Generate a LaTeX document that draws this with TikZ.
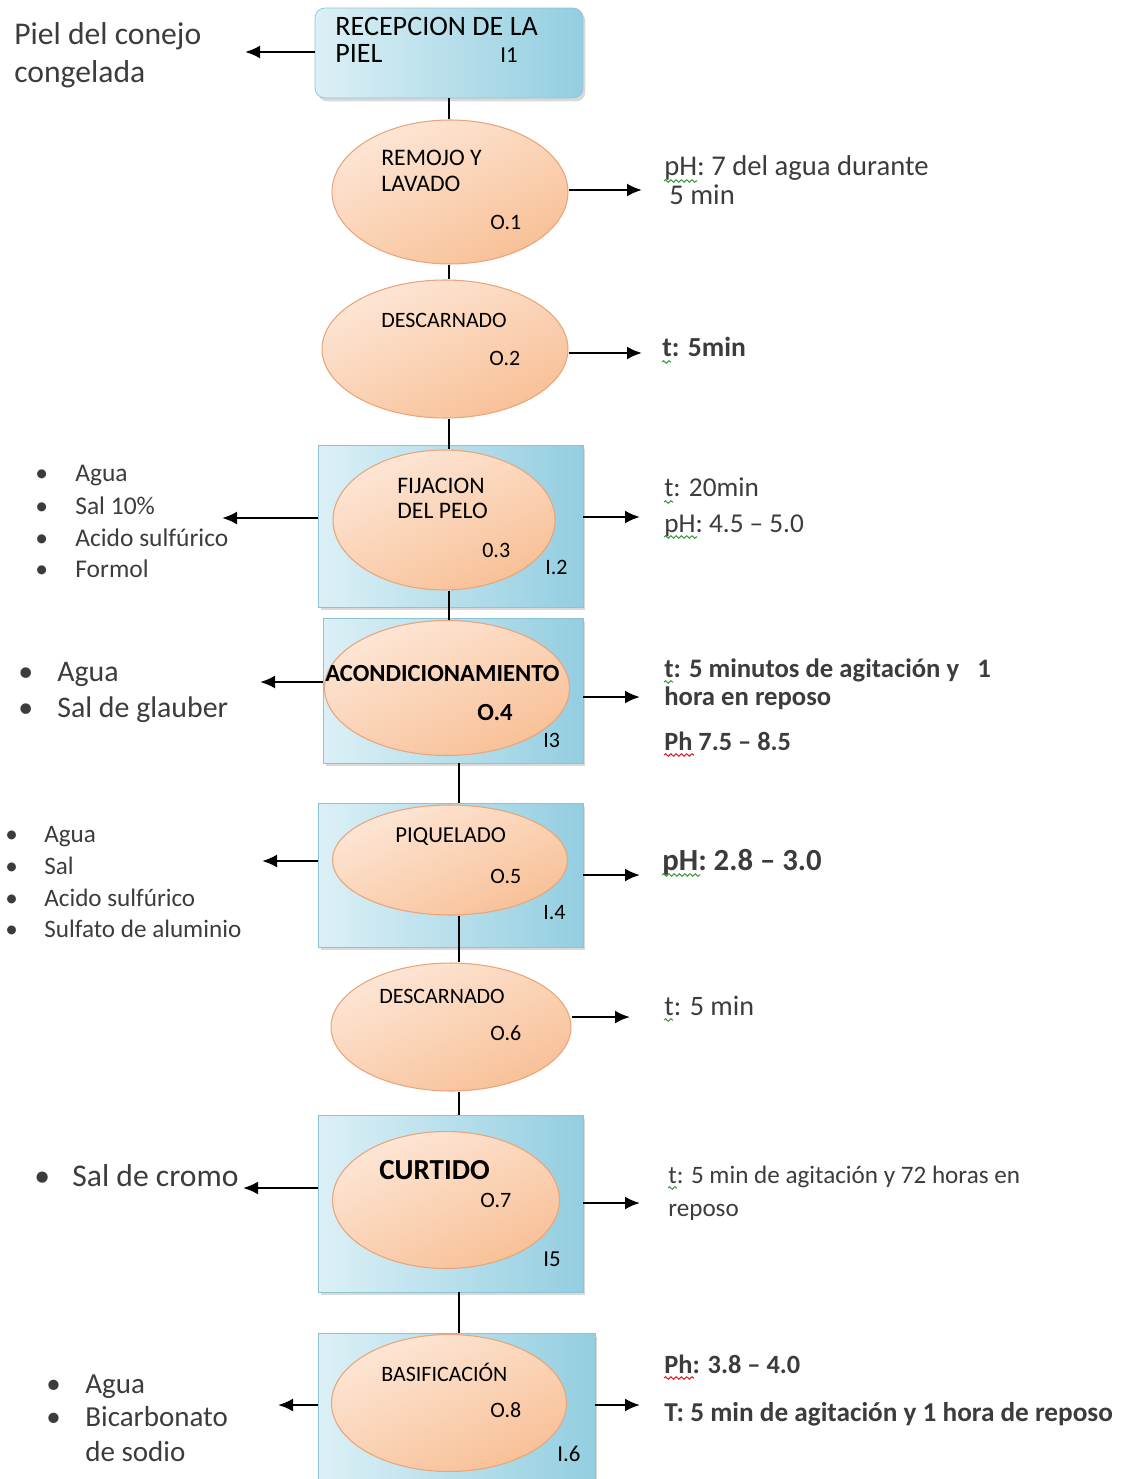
\documentclass[tikz,border=0pt]{standalone}
\usepackage{fontspec}
\setmainfont{Carlito}
\usetikzlibrary{shapes.geometric,shadows,arrows.meta,decorations.pathmorphing}

\definecolor{boxlight}{HTML}{DCF0F6}
\definecolor{boxdark}{HTML}{93CEE0}
\definecolor{boxedge}{HTML}{8CC4D6}
\definecolor{peachlight}{HTML}{FDE6D6}
\definecolor{peachdark}{HTML}{F8C096}
\definecolor{peachedge}{HTML}{E8A47A}
\definecolor{textgray}{HTML}{3C3C3C}
\definecolor{squiggreen}{HTML}{3C9A3C}
\definecolor{squigred}{HTML}{E02020}

\newcommand{\fs}[1]{\fontsize{#1}{#1}\selectfont}

\begin{document}
\begin{tikzpicture}[x=0.02cm, y=-0.02cm,
    >={Latex[length=0.3cm,width=0.26cm]},
    insp/.style={draw=boxedge, line width=0.4pt, left color=boxlight, right color=boxdark,
        drop shadow={shadow xshift=0.05cm, shadow yshift=-0.07cm, opacity=0.3, fill=gray}},
    oper/.style={ellipse, draw=peachedge, line width=0.6pt, inner sep=0pt,
        top color=peachlight, bottom color=peachdark, shading angle=25},
    link/.style={line width=1.3pt},
    flow/.style={->, line width=1.3pt},
    txt/.style={anchor=base west, inner sep=0pt, text=textgray},
    optxt/.style={anchor=base west, inner sep=0pt, text=black},
    spell/.style={draw=#1, line width=0.6pt, decorate,
        decoration={snake, amplitude=0.7pt, segment length=3pt}},
]
\useasboundingbox (0,0) rectangle (1122,1479);

% Inspection boxes
\node[insp, rounded corners=0.2cm, minimum width=5.36cm, minimum height=1.8cm] (Insp-1) at (449,53) {};
\foreach \i/\x/\y/\w/\h in {2/450.5/526/5.3/3.24, 3/453/690.5/5.2/2.9, 4/450.5/875/5.3/2.88,
                            5/450.5/1203.5/5.3/3.54, 6/456.5/1409/5.54/3.04} {
    \node[insp, minimum width=\w cm, minimum height=\h cm] (Insp-\i) at (\x,\y) {};
}

% Operations
\foreach \i/\x/\y/\w/\h in {1/450/192/4.72/2.88, 2/445/349/4.92/2.76, 3/444/520/4.44/2.8,
                            4/447/688/4.9/2.7, 5/450/860/4.7/2.2, 6/451/1027/4.8/2.56,
                            7/446/1200/4.54/2.74, 8/449/1403/4.7/2.74} {
    \node[oper, minimum width=\w cm, minimum height=\h cm] (Oper-\i) at (\x,\y) {};
}

% Vertical links
\coordinate (spine-a) at (449,0);
\coordinate (spine-b) at (459,0);
\foreach \a/\b in {Insp-1/Oper-1, Oper-1/Oper-2, Oper-2/Oper-3, Oper-3/Oper-4} {
    \draw[link] (spine-a |- \a.south) -- (spine-a |- \b.north);
}
\foreach \a/\b in {Insp-3/Insp-4, Oper-5/Oper-6, Oper-6/Insp-5, Insp-5/Insp-6} {
    \draw[link] (spine-b |- \a.south) -- (spine-b |- \b.north);
}

% Texts inside boxes and ellipses
\node[optxt, font=\fs{16}] (Name-1a) at (335,36) {RECEPCION DE LA};
\node[optxt, font=\fs{16}] (Name-1b) at (335,63) {PIEL};
\node[optxt, font=\fs{13}] (Code-I1) at (500,63) {I1};

\node[optxt, font=\fs{13.5}] (Name-O1a) at (381,166) {REMOJO Y};
\node[optxt, font=\fs{13.5}] (Name-O1b) at (381,192) {LAVADO};
\node[optxt, font=\fs{12.5}] (Code-O1) at (490,230) {O.1};

\node[optxt, font=\fs{12.5}] (Name-O2) at (381,328) {DESCARNADO};
\node[optxt, font=\fs{12.5}] (Code-O2) at (489,366) {O.2};

\node[optxt, font=\fs{13.5}] (Name-O3a) at (397,493) {FIJACION};
\node[optxt, font=\fs{13.5}] (Name-O3b) at (397,518) {DEL PELO};
\node[optxt, font=\fs{12.5}] (Code-O3) at (482,557) {0.3};
\node[optxt, font=\fs{12.5}] (Code-I2) at (545,574) {I.2};

\node[optxt, font=\fs{14}\bfseries] (Name-O4) at (325,681) {ACONDICIONAMIENTO};
\node[optxt, font=\fs{14}\bfseries] (Code-O4) at (477,720) {O.4};
\node[optxt, font=\fs{12.5}] (Code-I3) at (543,747) {I3};

\node[optxt, font=\fs{13}] (Name-O5) at (395,842) {PIQUELADO};
\node[optxt, font=\fs{12.5}] (Code-O5) at (490,883) {O.5};
\node[optxt, font=\fs{12.5}] (Code-I4) at (543,919) {I.4};

\node[optxt, font=\fs{12.5}] (Name-O6) at (379,1003) {DESCARNADO};
\node[optxt, font=\fs{12.5}] (Code-O6) at (490,1040) {O.6};

\node[optxt, font=\fs{16.5}\bfseries] (Name-O7) at (379,1179) {CURTIDO};
\node[optxt, font=\fs{12.5}] (Code-O7) at (480,1207) {O.7};
\node[optxt, font=\fs{13}] (Code-I5) at (543,1266) {I5};

\node[optxt, font=\fs{12.5}] (Name-O8) at (381,1381) {BASIFICACIÓN};
\node[optxt, font=\fs{12.5}] (Code-O8) at (490,1417) {O.8};
\node[optxt, font=\fs{13}] (Code-I6) at (557,1461) {I.6};

% Inputs (left)
\node[txt, font=\fs{18}] (In-1a) at (14,45) {Piel del conejo};
\node[txt, font=\fs{18}] (In-1b) at (14,83) {congelada};
\foreach \item/\y [count=\i] in {Agua/481, Sal 10\%/514, Acido sulfúrico/546, Formol/577} {
    \node[txt, font=\fs{14.5}] (Dot-2-\i) at (35,\y) {\textbullet};
    \node[txt, font=\fs{14.5}] (In-2-\i) at (75,\y) {\item};
}
\foreach \item/\y [count=\i] in {Agua/681, Sal de glauber/717} {
    \node[txt, font=\fs{17}] (Dot-3-\i) at (18,\y) {\textbullet};
    \node[txt, font=\fs{17}] (In-3-\i) at (57,\y) {\item};
}
\foreach \item/\y [count=\i] in {Agua/842, Sal/874, Acido sulfúrico/906, Sulfato de aluminio/937} {
    \node[txt, font=\fs{14.3}] (Dot-4-\i) at (5,\y) {\textbullet};
    \node[txt, font=\fs{14.3}] (In-4-\i) at (44,\y) {\item};
}
\node[txt, font=\fs{18}] (Dot-5-1) at (34,1186) {\textbullet};
\node[txt, font=\fs{18}] (In-5-1) at (72,1186) {Sal de cromo};
\foreach \item/\y [count=\i] in {Agua/1393, Bicarbonato/1426} {
    \node[txt, font=\fs{16.5}] (Dot-6-\i) at (46,\y) {\textbullet};
    \node[txt, font=\fs{16.5}] (In-6-\i) at (85,\y) {\item};
}
\node[txt, font=\fs{16.5}] (In-6-3) at (85,1461) {de sodio};

% Outputs (right)
\node[txt, font=\fs{16.3}] (Out-1a) at (664,176) {pH: 7 del agua durante};
\node[txt, font=\fs{16.3}] (Out-1b) at (669,205) {5 min};
\node[txt, font=\fs{15.7}\bfseries] (Out-2) at (662,357) {t: 5min};
\node[txt, font=\fs{15.5}] (Out-3a) at (664,497) {t: 20min};
\node[txt, font=\fs{15.5}] (Out-3b) at (664,532) {pH: 4.5 – 5.0};
\node[txt, font=\fs{15.2}\bfseries] (Out-4a) at (664,677) {t: 5 minutos de agitación y \ \ 1};
\node[txt, font=\fs{15.2}\bfseries] (Out-4b) at (664,705) {hora en reposo};
\node[txt, font=\fs{15}\bfseries] (Out-4c) at (664,750) {Ph 7.5 – 8.5};
\node[txt, font=\fs{17.5}\bfseries] (Out-5) at (662,870) {pH: 2.8 – 3.0};
\node[txt, font=\fs{16}] (Out-6) at (664,1015) {t: 5 min};
\node[txt, font=\fs{14.3}] (Out-7a) at (668,1183) {t: 5 min de agitación y 72 horas en};
\node[txt, font=\fs{14.3}] (Out-7b) at (668,1216) {reposo};
\node[txt, font=\fs{15}\bfseries] (Out-8a) at (664,1373) {Ph: 3.8 – 4.0};
\node[txt, font=\fs{15.5}\bfseries] (Out-8b) at (664,1421) {T: 5 min de agitación y 1 hora de reposo};

% spelling marks
\foreach \n/\w/\c in {Out-1a/33/squiggreen, Out-3b/33/squiggreen, Out-4c/30/squigred,
                      Out-5/38/squiggreen, Out-8a/30/squigred,
                      Out-2/9/squiggreen, Out-3a/9/squiggreen, Out-4a/9/squiggreen,
                      Out-6/9/squiggreen, Out-7a/9/squiggreen} {
    \draw[spell=\c] ([yshift=-0.1cm]\n.base west) -- ++(\w,0);
}

% Arrows
\coordinate (tip-l1) at (245,52);
\coordinate (tip-l2) at (222,518);
\coordinate (tip-l3) at (260,682);
\coordinate (tip-l4) at (262,861);
\coordinate (tip-l5) at (243,1188);
\coordinate (tip-l6) at (278,1405);
\foreach \i in {1,...,6} {
    \draw[flow] (Insp-\i.west |- tip-l\i) -- (tip-l\i);
}
\coordinate (tip-o1) at (642,190);
\coordinate (tip-o2) at (642,353);
\coordinate (tip-o6) at (630,1017);
\foreach \i in {1,2,6} {
    \draw[flow] (Oper-\i.east |- tip-o\i) -- (tip-o\i);
}
\coordinate (tip-r2) at (640,517);
\coordinate (tip-r3) at (640,697);
\coordinate (tip-r4) at (640,875);
\coordinate (tip-r5) at (640,1203);
\coordinate (tip-r6) at (640,1405);
\foreach \i in {2,...,6} {
    \draw[flow] (Insp-\i.east |- tip-r\i) -- (tip-r\i);
}
\end{tikzpicture}
\end{document}
